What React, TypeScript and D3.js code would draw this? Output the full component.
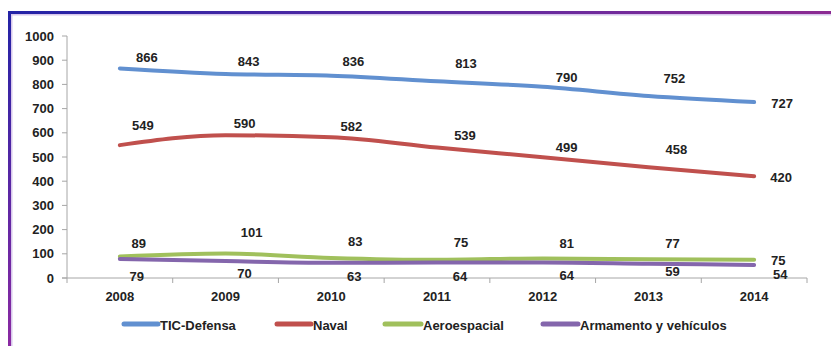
import React from "react";
import * as d3 from "d3";

// Employment by defence sub-sector, 2008–2014
const years = ["2008", "2009", "2010", "2011", "2012", "2013", "2014"];
const ticDefensa = [866, 843, 836, 813, 790, 752, 727];
const naval = [549, 590, 582, 539, 499, 458, 420];
const aeroespacial = [89, 101, 83, 75, 81, 77, 75];
const armamento = [79, 70, 63, 64, 64, 59, 54];
const seriesNames = ["TIC-Defensa", "Naval", "Aeroespacial", "Armamento y vehículos"];
const yTicks = [0, 100, 200, 300, 400, 500, 600, 700, 800, 900, 1000];

// Label nudges (dx, dy) from each point, per series
const labelNudges: [number, number][][] = [
  [[27, -11], [23, -13], [22, -14], [29, -18], [24, -9], [26, -18], [28, 1]],
  [[23, -20], [19, -12], [20, -11], [28, -12], [24, -10], [28, -18], [27, 1]],
  [[19, -13], [26, -21], [24, -16], [24, -17], [24, -15], [24, -16], [24, 1]],
  [[17, 18], [19, 12], [23, 14], [23, 14], [24, 13], [24, 8], [26, 10]],
];

const colors = ["#6190d0", "#c0504d", "#a0c05c", "#8466ac"];

const W = 831;
const H = 346;
const plot = { left: 67, right: 807, top: 36, bottom: 278 };
const font = "'Liberation Sans', Arial, sans-serif";

export default function App() {
  const series = [ticDefensa, naval, aeroespacial, armamento];
  const x = d3.scaleBand<string>().domain(years).range([plot.left, plot.right]);
  const y = d3.scaleLinear().domain([0, 1000]).range([plot.bottom, plot.top]);
  const cx = (yr: string) => (x(yr) as number) + x.bandwidth() / 2;
  const line = d3
    .line<number>()
    .x((_, i) => cx(years[i]))
    .y((v) => y(v))
    .curve(d3.curveMonotoneX);

  const legendItems = [
    { lx: 124, tx: 160 },
    { lx: 277, tx: 313 },
    { lx: 385, tx: 423 },
    { lx: 543, tx: 580 },
  ];

  return (
    <svg
      width={W}
      height={H}
      style={{ position: "absolute", left: 0, top: 0, background: "#fff" }}
      fontFamily={font}
    >
      <defs>
        <linearGradient id="topEdge" x1="0" x2="1" y1="0" y2="0">
          <stop offset="0" stopColor="#2323a6" />
          <stop offset="0.5" stopColor="#5a2aa3" />
          <stop offset="1" stopColor="#8c2a92" />
        </linearGradient>
        <linearGradient id="leftEdge" x1="0" x2="0" y1="0" y2="1">
          <stop offset="0" stopColor="#2323a6" />
          <stop offset="1" stopColor="#8a2aa2" />
        </linearGradient>
      </defs>

      {/* frame */}
      <rect x={8} y={14} width={W - 8} height={1.5} fill="#d8c8ec" />
      <rect x={11} y={14} width={1.5} height={H - 14} fill="#d8c8ec" />
      <rect x={8} y={11} width={W - 8} height={3} fill="url(#topEdge)" />
      <rect x={8} y={11} width={3} height={H - 11} fill="url(#leftEdge)" />

      {/* y axis */}
      <line x1={plot.left} x2={plot.left} y1={plot.top} y2={plot.bottom} stroke="#a6a6a6" />
      {yTicks.map((t) => (
        <g key={t}>
          <line x1={plot.left - 5} x2={plot.left} y1={y(t)} y2={y(t)} stroke="#a6a6a6" />
          <text
            x={54}
            y={y(t)}
            dy="0.35em"
            textAnchor="end"
            fontSize={13}
            fontWeight="bold"
            fill="#222"
          >
            {t}
          </text>
        </g>
      ))}

      {/* x axis */}
      <line x1={plot.left - 5} x2={plot.right} y1={plot.bottom} y2={plot.bottom} stroke="#a6a6a6" />
      {years.map((yr) => (
        <line
          key={"t" + yr}
          x1={(x(yr) as number) + x.bandwidth()}
          x2={(x(yr) as number) + x.bandwidth()}
          y1={plot.bottom}
          y2={plot.bottom + 5}
          stroke="#a6a6a6"
        />
      ))}
      <line x1={plot.left} x2={plot.left} y1={plot.bottom} y2={plot.bottom + 5} stroke="#a6a6a6" />
      {years.map((yr) => (
        <text
          key={yr}
          x={cx(yr)}
          y={296}
          dy="0.35em"
          textAnchor="middle"
          fontSize={13}
          fontWeight="bold"
          fill="#222"
        >
          {yr}
        </text>
      ))}

      {/* series lines */}
      {series.map((s, si) => (
        <path
          key={"l" + si}
          d={line(s) as string}
          fill="none"
          stroke={colors[si]}
          strokeWidth={4}
          strokeLinecap="round"
          strokeLinejoin="round"
        />
      ))}

      {/* data labels */}
      {series.map((s, si) =>
        s.map((v, i) => (
          <text
            key={`d${si}-${i}`}
            x={cx(years[i]) + labelNudges[si][i][0]}
            y={y(v) + labelNudges[si][i][1]}
            dy="0.35em"
            textAnchor="middle"
            fontSize={13}
            fontWeight="bold"
            fill="#222"
          >
            {v}
          </text>
        ))
      )}

      {/* legend */}
      {seriesNames.map((name, si) => (
        <g key={name}>
          <line
            x1={legendItems[si].lx}
            x2={legendItems[si].tx - 2}
            y1={324}
            y2={324}
            stroke={colors[si]}
            strokeWidth={5}
            strokeLinecap="round"
          />
          <text
            x={legendItems[si].tx}
            y={325}
            dy="0.35em"
            fontSize={13}
            fontWeight="bold"
            fill="#222"
          >
            {name}
          </text>
        </g>
      ))}
    </svg>
  );
}
